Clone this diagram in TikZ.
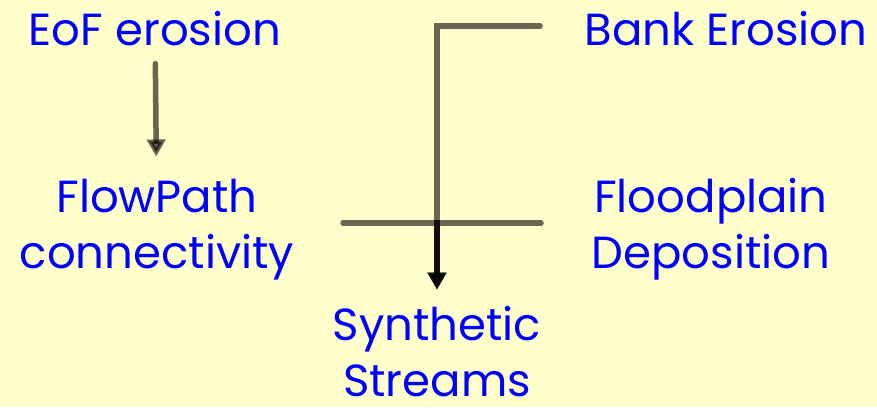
\documentclass[tikz,border=0pt]{standalone}
\usepackage{fontspec}
\setmainfont{Poppins}
\definecolor{paleyellow}{RGB}{255,255,204}
\definecolor{textblue}{RGB}{0,0,255}
\usetikzlibrary{arrows.meta}

\begin{document}
\begin{tikzpicture}[x=1pt,y=-1pt,
  label/.style={text=textblue,font=\fontsize{45}{56}\selectfont,align=center,inner sep=0pt,anchor=base},
  link/.style={draw=black,draw opacity=0.6,fill opacity=0.6,line width=5.5pt,line cap=round,line join=miter,-{Triangle[width=18pt,length=17pt]}}
]
  \fill[paleyellow] (0,0) rectangle (877,407);
  \useasboundingbox (0,0) rectangle (877,407);
  % base anchor of a two-line label sits on its last line
  \node[label] (eof)   at (155,45)  {EoF erosion};
  \node[label] (bank)  at (726,45)  {Bank Erosion};
  \node[label] (flow)  at (157,268) {FlowPath\\connectivity};
  \node[label] (flood) at (711,268) {Floodplain\\Deposition};
  \node[label] (synth) at (437,396) {Synthetic\\Streams};
  \coordinate (bankin)  at (540,26);
  \coordinate (floodin) at (541,223);
  \coordinate (flowin)  at (343,223);
  \draw[link,shorten <=18pt,shorten >=22pt] (eof) -- (flow);
  \draw[link,shorten >=16pt] (bankin) -| (synth.north);
  \draw[link,shorten >=16pt] (floodin) -| (synth.north);
  \draw[link,shorten >=16pt] (flowin) -| (synth.north);
\end{tikzpicture}
\end{document}
